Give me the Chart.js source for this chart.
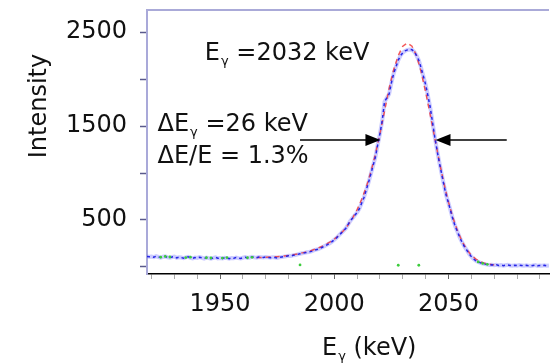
<!DOCTYPE html>
<html>
<head>
<meta charset="utf-8">
<script src="https://cdn.jsdelivr.net/npm/chart.js@4.4.1/dist/chart.umd.min.js"></script>
<style>
  html, body { margin: 0; padding: 0; background: #fff; overflow: hidden; }
</style>
</head>
<body>
<canvas id="spectrum" width="553" height="363"></canvas>
<script>
// Measured gamma spectrum (1 keV bins)
const energyKeV = [
  1918,1919,1920,1921,1922,1923,1924,1925,1926,1927,
  1928,1929,1930,1931,1932,1933,1934,1935,1936,1937,
  1938,1939,1940,1941,1942,1943,1944,1945,1946,1947,
  1948,1949,1950,1951,1952,1953,1954,1955,1956,1957,
  1958,1959,1960,1961,1962,1963,1964,1965,1966,1967,
  1968,1969,1970,1971,1972,1973,1974,1975,1976,1977,
  1978,1979,1980,1981,1982,1983,1984,1985,1986,1987,
  1988,1989,1990,1991,1992,1993,1994,1995,1996,1997,
  1998,1999,2000,2001,2002,2003,2004,2005,2006,2007,
  2008,2009,2010,2011,2012,2013,2014,2015,2016,2017,
  2018,2019,2020,2021,2022,2023,2024,2025,2026,2027,
  2028,2029,2030,2031,2032,2033,2034,2035,2036,2037,
  2038,2039,2040,2041,2042,2043,2044,2045,2046,2047,
  2048,2049,2050,2051,2052,2053,2054,2055,2056,2057,
  2058,2059,2060,2061,2062,2063,2064,2065,2066,2067,
  2068,2069,2070,2071,2072,2073,2074,2075,2076,2077,
  2078,2079,2080,2081,2082,2083,2084,2085,2086,2087,
  2088,2089,2090,2091,2092,2093,2094
];
const measuredCounts = [
  112,108,110,104,114,106,100,108,112,102,
  98,106,110,96,104,100,94,102,108,98,
  92,100,96,104,98,90,100,94,88,96,
  102,92,96,90,98,94,88,96,92,100,
  94,90,98,104,96,100,108,102,98,106,
  104,100,106,102,98,104,100,96,102,106,
  110,114,120,116,124,128,134,140,146,150,
  156,160,166,176,184,190,202,212,226,238,
  252,270,290,310,335,360,385,410,450,490,
  520,550,580,620,680,740,820,900,990,1080,
  1170,1300,1420,1560,1760,1800,1840,1960,2060,2130,
  2200,2250,2280,2300,2310,2315,2312,2290,2250,2200,
  2120,2030,1940,1820,1700,1540,1380,1240,1110,990,
  870,760,680,590,500,430,370,310,260,215,
  180,140,110,85,66,54,44,36,30,25,
  21,24,18,22,16,20,14,18,22,16,
  12,18,14,20,16,12,18,14,10,16,
  20,12,16,14,18,12,16
];

// Fitted peak shape
const fitEnergyKeV = [
  1966,1968,1970,1972,1974,1976,1978,1980,1982,1984,
  1986,1988,1990,1992,1994,1996,1998,2000,2002,2004,
  2006,2008,2010,2012,2014,2016,2018,2020,2022,2024,
  2026,2028,2030,2032,2034,2036,2038,2040,2042,2044,
  2046,2048,2050,2052,2054,2056,2058,2060,2062,2064,
  2066,2068,2070
];
const fitCounts = [
  100,101,103,105,108,112,117,123,130,139,
  150,162,176,192,212,236,264,296,336,386,
  446,520,610,720,850,1010,1200,1420,1660,1900,
  2100,2250,2350,2385,2350,2250,2080,1860,1620,1370,
  1120,890,690,520,380,270,185,125,84,56,
  38,28,22
];

// Second (green) set of points
const extraEnergyKeV = [1924,1926,1928,1935,1937,1944,1946,1951,1953,1962,1964,1985,2028,2037,2063,2065,2067];
const extraCounts = [104,112,106,100,104,98,96,94,100,98,102,22,18,18,54,38,28];

// Axis ticks
const xTickValues = [1920,1930,1940,1950,1960,1970,1980,1990,2000,2010,2020,2030,2040,2050,2060,2070,2080,2090];
const xLabelValues = [1950, 2000, 2050];
const yTickValues = [0, 500, 1000, 1500, 2000, 2500];
const yLabelValues = [500, 1500, 2500];

// Annotations, placed in data units (keV, counts)
const peakText = { e: 1943.3, i: 2203, main: 'E', sub: 'γ', rest: ' =2032 keV' };
const widthText = { e: 1922.6, i: 1447, main: 'ΔE', sub: 'γ', rest: ' =26 keV' };
const ratioText = { e: 1922.6, i: 1106, text: 'ΔE/E = 1.3%' };
const arrowLevel = 1350;
const leftArrow = [1985, 2020.2];
const rightArrow = [2075.5, 2044.3];

const FONT = '"DejaVu Sans", sans-serif';
const INK = '#111111';

function toPoints(xs, ys) {
    return xs.map((x, i) => ({ x: x, y: ys[i] }));
}

function drawSubText(ctx, x, y, main, sub, rest, size) {
    ctx.font = `${size}px ${FONT}`;
    ctx.fillText(main, x, y);
    let cx = x + ctx.measureText(main).width + 1;
    ctx.font = `${Math.round(size * 0.55)}px ${FONT}`;
    ctx.fillText(sub, cx, y + 5);
    cx += ctx.measureText(sub).width;
    ctx.font = `${size}px ${FONT}`;
    ctx.fillText(rest, cx, y);
}

function drawArrow(ctx, x0, x1, y) {
    const dir = Math.sign(x1 - x0);
    ctx.beginPath();
    ctx.moveTo(x0, y);
    ctx.lineTo(x1 - dir * 12, y);
    ctx.stroke();
    ctx.beginPath();
    ctx.moveTo(x1, y);
    ctx.lineTo(x1 - dir * 15, y - 6);
    ctx.lineTo(x1 - dir * 15, y + 6);
    ctx.closePath();
    ctx.fill();
}

const annotate = {
    id: 'annotate',
    afterDraw(chart) {
        const { ctx, chartArea, scales: { x, y } } = chart;
        ctx.save();

        // top frame line
        ctx.strokeStyle = '#aaaad8';
        ctx.lineWidth = 2;
        ctx.beginPath();
        ctx.moveTo(chartArea.left, chartArea.top);
        ctx.lineTo(chartArea.right, chartArea.top);
        ctx.stroke();

        ctx.fillStyle = INK;
        ctx.textAlign = 'left';
        ctx.textBaseline = 'alphabetic';

        drawSubText(ctx, x.getPixelForValue(peakText.e), y.getPixelForValue(peakText.i),
            peakText.main, peakText.sub, peakText.rest, 24);
        drawSubText(ctx, x.getPixelForValue(widthText.e), y.getPixelForValue(widthText.i),
            widthText.main, widthText.sub, widthText.rest, 24);
        ctx.font = `24px ${FONT}`;
        ctx.fillText(ratioText.text, x.getPixelForValue(ratioText.e), y.getPixelForValue(ratioText.i));

        // FWHM arrows
        ctx.strokeStyle = '#000';
        ctx.fillStyle = '#000';
        ctx.lineWidth = 1.5;
        const ay = y.getPixelForValue(arrowLevel);
        drawArrow(ctx, x.getPixelForValue(leftArrow[0]), x.getPixelForValue(leftArrow[1]), ay);
        drawArrow(ctx, x.getPixelForValue(rightArrow[0]), x.getPixelForValue(rightArrow[1]), ay);

        // axis titles
        ctx.fillStyle = INK;
        drawSubText(ctx, chartArea.left + 175, chartArea.bottom + 81, 'E', 'γ', ' (keV)', 24);

        ctx.translate(40, chartArea.top + 96);
        ctx.rotate(-Math.PI / 2);
        ctx.textAlign = 'center';
        ctx.textBaseline = 'middle';
        ctx.font = `24px ${FONT}`;
        ctx.fillText('Intensity', 0, 0);

        ctx.restore();
    }
};

const ctx = document.getElementById('spectrum');

new Chart(ctx, {
    type: 'line',
    data: {
        datasets: [{
            label: 'fit',
            data: toPoints(fitEnergyKeV, fitCounts),
            borderColor: 'rgba(240, 50, 50, 0.8)',
            borderWidth: 1.5,
            borderDash: [5, 4],
            pointRadius: 0,
            order: 2
        }, {
            label: 'measured halo',
            data: toPoints(energyKeV, measuredCounts),
            borderColor: 'rgba(110, 110, 255, 0.35)',
            borderWidth: 4,
            pointRadius: 0,
            order: 3
        }, {
            label: 'measured',
            data: toPoints(energyKeV, measuredCounts),
            borderColor: '#2626e6',
            borderWidth: 1.5,
            borderDash: [3, 3],
            pointRadius: 0,
            order: 1
        }, {
            type: 'scatter',
            label: 'extra',
            data: toPoints(extraEnergyKeV, extraCounts),
            backgroundColor: '#3ccc3c',
            borderWidth: 0,
            pointRadius: 1.4,
            order: 0
        }]
    },
    options: {
        responsive: false,
        animation: false,
        devicePixelRatio: 1,
        layout: { padding: { top: 10, left: 0, right: 0, bottom: 0 } },
        plugins: {
            legend: { display: false },
            tooltip: { enabled: false }
        },
        scales: {
            x: {
                type: 'linear',
                min: 1918,
                max: 2094,
                afterBuildTicks: (scale) => {
                    scale.ticks = xTickValues.map(v => ({ value: v }));
                },
                afterFit: (scale) => {
                    scale.height = 89;
                    scale.paddingLeft = 0;
                    scale.paddingRight = 0;
                },
                ticks: {
                    autoSkip: false,
                    maxRotation: 0,
                    padding: 11,
                    color: INK,
                    font: { family: FONT, size: 24 },
                    callback: (v) => xLabelValues.includes(v) ? String(v) : ''
                },
                grid: {
                    drawOnChartArea: false,
                    drawTicks: true,
                    tickLength: 5,
                    tickColor: (c) => (c.tick && c.tick.value % 50 === 0) ? '#666' : '#aaa'
                },
                border: { color: '#000', width: 1.5 }
            },
            y: {
                type: 'linear',
                min: -75,
                max: 2735,
                afterBuildTicks: (scale) => {
                    scale.ticks = yTickValues.map(v => ({ value: v }));
                },
                afterFit: (scale) => {
                    scale.width = 147;
                    scale.paddingTop = 0;
                    scale.paddingBottom = 0;
                },
                ticks: {
                    autoSkip: false,
                    padding: 13,
                    color: INK,
                    font: { family: FONT, size: 24 },
                    callback: (v) => yLabelValues.includes(v) ? String(v) : ''
                },
                grid: {
                    drawOnChartArea: false,
                    drawTicks: true,
                    tickLength: 7,
                    tickColor: '#5a5a8c',
                    tickWidth: 1.5
                },
                border: { color: '#a9a9d9', width: 2 }
            }
        }
    },
    plugins: [annotate]
});
</script>
</body>
</html>
